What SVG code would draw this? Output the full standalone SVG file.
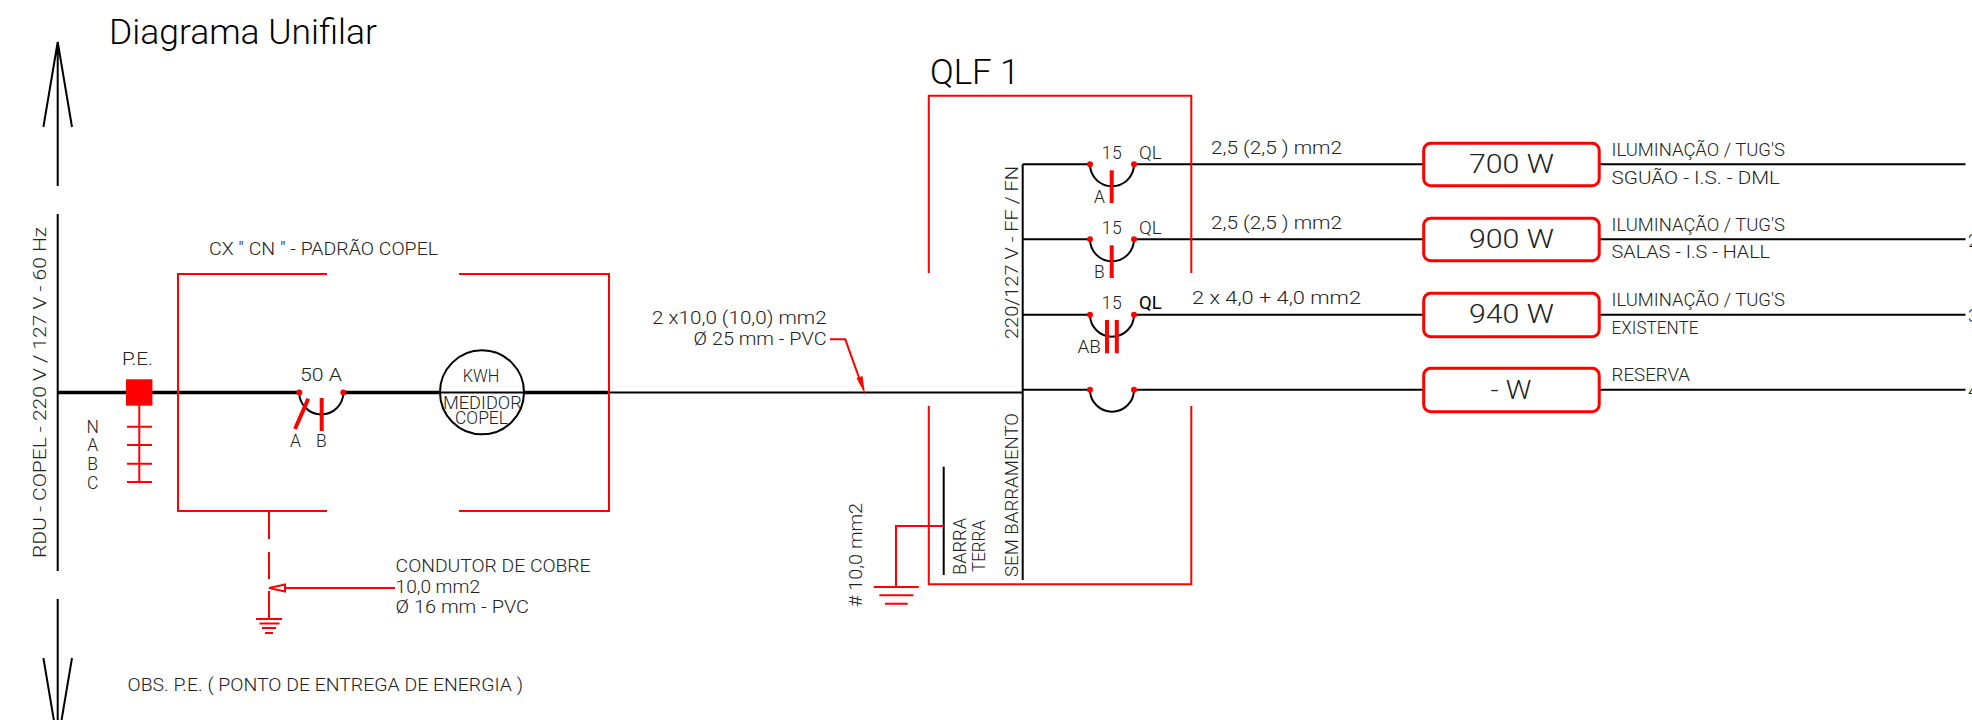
<svg xmlns="http://www.w3.org/2000/svg" width="1972" height="720" viewBox="0 0 1972 720">
<style>
text{font-family:"Roboto","Liberation Sans",sans-serif;font-weight:300;font-size:17.5px;fill:#222}
.k{fill:none;stroke:#000;stroke-width:2}
.K{fill:none;stroke:#000;stroke-width:3.5}
.r{fill:none;stroke:#f00;stroke-width:2}
.R{fill:none;stroke:#f00;stroke-width:4}
.f{fill:#f00;stroke:none}
.w{fill:#fff;stroke:#f00;stroke-width:3}
.big{font-size:35px;fill:#000}
.mid{font-size:26px}
.edge{font-size:19px}
</style>
<defs>
<g id="brk"><path class="k" d="M0 0A22 22 0 0 0 44 0"/><circle class="f" cx="0" cy="0" r="3"/><circle class="f" cx="44" cy="0" r="3"/></g>
</defs>
<g id="connectors">
<path class="k" d="M57.700 42V186M57.700 214V571M57.700 599V743M43.400 127L57.700 42L72 127M43.400 658L57.700 743L72 658"/>
<path class="K" d="M57.700 392.500H299M343 392.500H440M524 392.500H609"/>
<path class="k" d="M440 392.500H524M609 392.500H1022.700"/>
<path class="r" d="M269 511V539M269 552V579M269 591V619"/>
<path class="r" d="M395 588H284"/>
<path class="r" fill="#fff" d="M269 588L285 584.500V591.500Z"/>
<path class="r" d="M256 619H282M259.500 623.500H279.500M262 628H276M265 633H273"/>
<path class="r" d="M830 339.300H845.300L862 386"/>
<path class="f" d="M865 394L856.500 378L862.500 376Z"/>
<path class="k" d="M1022.700 164.300V580"/>
<path class="k" d="M1022.700 164.300H1090M1134 164.300H1424M1022.700 239.300H1090M1134 239.300H1424M1022.700 314.700H1090M1134 314.700H1424M1022.700 389.700H1090M1134 389.700H1424"/>
<path class="k" d="M1599 164.300H1965.500M1599 239.300H1965.500M1599 314.700H1965.500M1599 389.700H1965.500"/>
<path class="k" d="M943.700 466.700V575"/>
<path class="r" d="M943.700 526H896V587M873.700 587H918.700M879.300 595.300H913.300M885 603.700H907.700"/>
</g>
<g id="title"><text class="big" x="109" y="44" textLength="268" lengthAdjust="spacingAndGlyphs">Diagrama Unifilar</text></g>
<g id="feeder-label"><text transform="translate(46 558) rotate(-90)" textLength="331" lengthAdjust="spacingAndGlyphs">RDU - COPEL - 220 V / 127 V - 60 Hz</text></g>
<g id="cx-box">
<path class="r" d="M327 274H178V511H327M459 274H609V511H459"/>
<text x="209" y="255" textLength="229" lengthAdjust="spacingAndGlyphs">CX " CN " - PADRÃO COPEL</text>
</g>
<g id="pe">
<rect class="f" x="126" y="379.300" width="26.400" height="26.400"/>
<path class="r" d="M139.300 405V482M127 426.700H152M127 445H152M127 463.700H152M127 482H152"/>
<text x="122" y="365" textLength="31" lengthAdjust="spacingAndGlyphs">P.E.</text>
<text x="92.600" y="433" text-anchor="middle">N</text>
<text x="92.600" y="451" text-anchor="middle">A</text>
<text x="92.600" y="470" text-anchor="middle">B</text>
<text x="92.600" y="489" text-anchor="middle">C</text>
</g>
<g id="breaker-50a">
<use href="#brk" x="299.300" y="392.500"/>
<path class="R" d="M308.300 398.700L295 429M321.700 398V431"/>
<text x="300" y="380.700" textLength="42" lengthAdjust="spacingAndGlyphs">50 A</text>
<text x="290" y="447.300">A</text>
<text x="316" y="447.300">B</text>
</g>
<g id="meter">
<circle cx="482" cy="392.300" r="42" fill="none" stroke="#000" stroke-width="2"/>
<text x="462.700" y="381.700" textLength="36.600" lengthAdjust="spacingAndGlyphs">KWH</text>
<text x="443" y="409" textLength="78.700" lengthAdjust="spacingAndGlyphs">MEDIDOR</text>
<text x="455" y="424.300" textLength="53" lengthAdjust="spacingAndGlyphs">COPEL</text>
</g>
<g id="ground-label">
<text x="395.600" y="572.300" textLength="195" lengthAdjust="spacingAndGlyphs">CONDUTOR DE COBRE</text>
<text x="395.600" y="593.300" textLength="84.400" lengthAdjust="spacingAndGlyphs">10,0 mm2</text>
<text x="395.600" y="613.300" textLength="133.400" lengthAdjust="spacingAndGlyphs">Ø 16 mm - PVC</text>
</g>
<g id="obs"><text x="127.500" y="691" textLength="395.500" lengthAdjust="spacingAndGlyphs">OBS. P.E. ( PONTO DE ENTREGA DE ENERGIA )</text></g>
<g id="cable-label">
<text x="652" y="324" textLength="174.600" lengthAdjust="spacingAndGlyphs">2 x10,0 (10,0) mm2</text>
<text x="693.600" y="345" textLength="133" lengthAdjust="spacingAndGlyphs">Ø 25 mm - PVC</text>
</g>
<g id="qlf">
<text class="big" x="930" y="84.300" textLength="89.500" lengthAdjust="spacing">QLF 1</text>
<path class="r" d="M928.800 273V95.700H1191.300V273M928.800 406V584.300H1191.300V406"/>
<text transform="translate(1018 339) rotate(-90)" textLength="173" lengthAdjust="spacingAndGlyphs">220/127 V - FF / FN</text>
<text transform="translate(1018 577) rotate(-90)" textLength="164" lengthAdjust="spacingAndGlyphs">SEM BARRAMENTO</text>
<text transform="translate(966 575) rotate(-90)" textLength="57" lengthAdjust="spacingAndGlyphs">BARRA</text>
<text transform="translate(985 572) rotate(-90)" textLength="52" lengthAdjust="spacingAndGlyphs">TERRA</text>
<text transform="translate(862 607) rotate(-90)" textLength="104" lengthAdjust="spacingAndGlyphs"># 10,0 mm2</text>
</g>
<g id="cb1">
<use href="#brk" x="1090" y="164.300"/><path class="R" d="M1111.700 170.300V203"/>
<text x="1101.700" y="159" textLength="20" lengthAdjust="spacing">15</text>
<text x="1139" y="159" textLength="22.700" lengthAdjust="spacingAndGlyphs">QL</text>
<text x="1094" y="202.700">A</text>
<text x="1211" y="154.300" textLength="131" lengthAdjust="spacingAndGlyphs">2,5 (2,5 ) mm2</text>
</g>
<g id="cb2">
<use href="#brk" x="1090" y="239.300"/><path class="R" d="M1111.700 245.300V278"/>
<text x="1101.700" y="234" textLength="20" lengthAdjust="spacing">15</text>
<text x="1139" y="234" textLength="22.700" lengthAdjust="spacingAndGlyphs">QL</text>
<text x="1094" y="277.700">B</text>
<text x="1211" y="229.300" textLength="131" lengthAdjust="spacingAndGlyphs">2,5 (2,5 ) mm2</text>
</g>
<g id="cb3">
<use href="#brk" x="1090" y="314.700"/><path class="R" d="M1107 320V353.300M1116.800 320V353.300"/>
<text x="1101.700" y="309.400" textLength="20" lengthAdjust="spacing">15</text>
<text x="1139" y="309.400" textLength="22.700" lengthAdjust="spacingAndGlyphs" style="fill:#000;font-weight:400">QL</text>
<text x="1077.500" y="352.700" textLength="23.500" lengthAdjust="spacingAndGlyphs">AB</text>
<text x="1192" y="304" textLength="169" lengthAdjust="spacingAndGlyphs">2 x 4,0 + 4,0 mm2</text>
</g>
<g id="cb4"><use href="#brk" x="1090" y="389.700"/></g>
<g id="load1">
<rect class="w" x="1423.700" y="143.300" width="175.500" height="42.400" rx="7"/>
<text class="mid" x="1469" y="173.300" textLength="85" lengthAdjust="spacingAndGlyphs">700 W</text>
<text x="1611.600" y="155.700" textLength="173.400" lengthAdjust="spacingAndGlyphs">ILUMINAÇÃO / TUG'S</text>
<text x="1611.600" y="184" textLength="168.400" lengthAdjust="spacingAndGlyphs">SGUÃO - I.S. - DML</text>
</g>
<g id="load2">
<rect class="w" x="1423.700" y="218.300" width="175.500" height="42.400" rx="7"/>
<text class="mid" x="1469" y="248.300" textLength="85" lengthAdjust="spacingAndGlyphs">900 W</text>
<text x="1611.600" y="230.700" textLength="173.400" lengthAdjust="spacingAndGlyphs">ILUMINAÇÃO / TUG'S</text>
<text x="1611.600" y="257.700" textLength="158.400" lengthAdjust="spacingAndGlyphs">SALAS - I.S - HALL</text>
<text class="edge" x="1968" y="246.700">2</text>
</g>
<g id="load3">
<rect class="w" x="1423.700" y="293.300" width="175.500" height="43.400" rx="7"/>
<text class="mid" x="1469" y="323.300" textLength="85" lengthAdjust="spacingAndGlyphs">940 W</text>
<text x="1611.600" y="305.700" textLength="173.400" lengthAdjust="spacingAndGlyphs">ILUMINAÇÃO / TUG'S</text>
<text x="1611.600" y="334" textLength="86.800" lengthAdjust="spacingAndGlyphs">EXISTENTE</text>
<text class="edge" x="1968" y="321.700">3</text>
</g>
<g id="load4">
<rect class="w" x="1423.700" y="368.300" width="175.500" height="43.400" rx="7"/>
<text class="mid" x="1490.500" y="398.700" textLength="40.800" lengthAdjust="spacingAndGlyphs">- W</text>
<text x="1611.600" y="381" textLength="78.400" lengthAdjust="spacingAndGlyphs">RESERVA</text>
<text class="edge" x="1968" y="396.700">4</text>
</g>
</svg>
